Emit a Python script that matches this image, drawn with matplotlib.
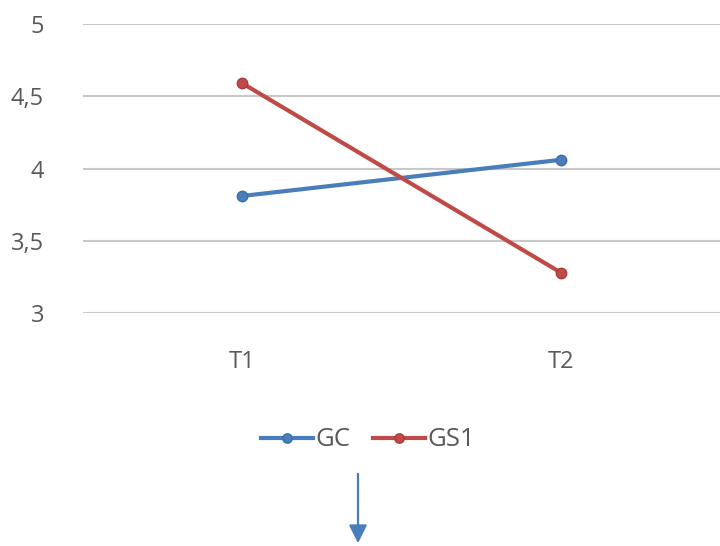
import matplotlib.pyplot as plt
from matplotlib.ticker import FuncFormatter

# valeurs moyennes par temps de mesure
temps = ['T1', 'T2']
gc = [3.81, 4.06]
gs1 = [4.59, 3.28]

plt.rcParams['font.family'] = ['Open Sans', 'DejaVu Sans']

fig = plt.figure(figsize=(7.2, 5.46), dpi=100)
ax = fig.add_axes([83 / 720, 1 - 313 / 546, 637 / 720, 289 / 546])

x = range(len(temps))
ax.plot(x, gc, color='#4a7ebb', lw=3, marker='o', ms=7.5, mec='#3d6da8', label='GC')
ax.plot(x, gs1, color='#be4b48', lw=3, marker='o', ms=7.5, mec='#a83c3a', label='GS1')

ax.set_xlim(-0.5, 1.5)
ax.set_ylim(3, 5)
ax.set_yticks([3, 3.5, 4, 4.5, 5])
ax.yaxis.set_major_formatter(FuncFormatter(lambda v, p: f'{v:g}'.replace('.', ',')))
ax.set_xticks(list(x))
ax.set_xticklabels(temps)

ax.grid(axis='y', color='#c8c8c8', lw=1.5)
ax.set_axisbelow(True)
for s in ax.spines.values():
    s.set_visible(False)
ax.tick_params(length=0, labelsize=17, colors='#595959')
ax.tick_params(axis='y', pad=28)
ax.tick_params(axis='x', pad=27)

leg = fig.legend(loc='center', bbox_to_anchor=(368 / 720, 1 - 440 / 546), ncol=2,
                 frameon=False, fontsize=18.5, handlelength=2.0, handletextpad=0.1,
                 columnspacing=0.9, markerscale=0.9)
for t in leg.get_texts():
    t.set_color('#595959')

# flèche vers le bas
ax.annotate('', xy=(358 / 720, 1 - 546 / 546), xytext=(358 / 720, 1 - 471 / 546),
            xycoords='figure fraction', textcoords='figure fraction',
            arrowprops=dict(arrowstyle='-|>,head_length=1.1,head_width=0.55',
                            color='#4a7ebb', lw=1.6))

fig.savefig('out.png', dpi=100)
